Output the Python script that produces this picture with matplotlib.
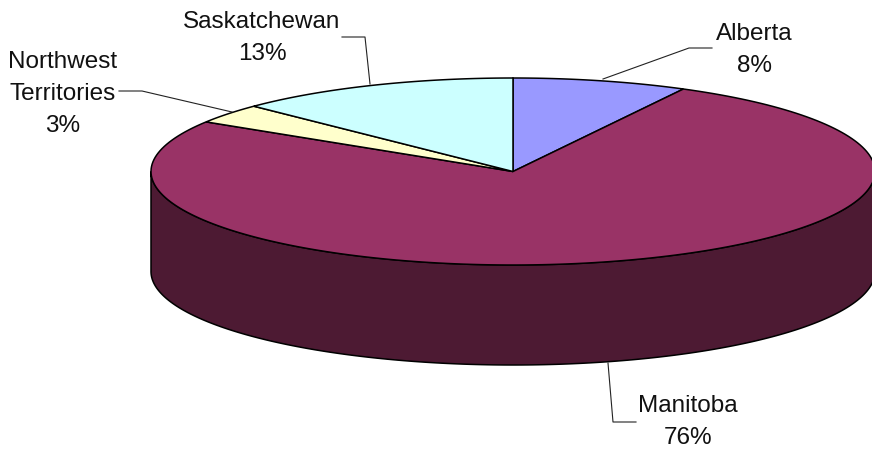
import numpy as np
import matplotlib
matplotlib.use('Agg')
import matplotlib.pyplot as plt
from matplotlib.patches import Polygon

plt.rcParams['font.family'] = ['Liberation Sans', 'DejaVu Sans']

labels = ['Alberta', 'Manitoba', 'Northwest\nTerritories', 'Saskatchewan']
shares = [7.8, 76.1, 3.4, 12.7]
colors = ['#9999FF', '#993366', '#FFFFCC', '#CCFFFF']
wall_color = '#4D1A33'

cx, cy, rx, ry, depth = 513, 172.5, 362, 93.5, 100

fig = plt.figure(figsize=(8.72, 4.52), dpi=100)
ax = fig.add_axes([0, 0, 1, 1])
ax.set_xlim(0, 872)
ax.set_ylim(452, 0)
ax.axis('off')


def rim(a0, a1, n=200):
    # a0, a1 in percent, clockwise from the top
    t = np.radians(90 - 3.6 * np.linspace(a0, a1, n))
    return cx + rx * np.cos(t), cy - ry * np.sin(t)


# side wall
sx, sy = rim(25, 75)
ax.add_patch(Polygon(np.r_[np.c_[sx, sy], np.c_[sx, sy + depth][::-1]], closed=True,
                     fc=wall_color, ec='k', lw=1.1, zorder=2))

# top slices
start = 0
for share, col in zip(shares, colors):
    x, y = rim(start, start + share)
    ax.add_patch(Polygon(np.r_[[[cx, cy]], np.c_[x, y]], closed=True, fc=col, ec='k', lw=1.1, zorder=3))
    start += share

# labels and leader lines
text_pos = [(754, 50), (688, 422), (63, 94), (262, 38)]
leaders = [([712, 689, 603], [49, 49, 80]),
           ([636, 613, 608], [423, 423, 364]),
           ([119, 142, 232], [92, 92, 113]),
           ([342, 365, 370], [38, 38, 85])]
for name, share, (tx, ty), (lx, ly) in zip(labels, shares, text_pos, leaders):
    ax.text(tx, ty, f'{name}\n{round(share)}%', ha='center', va='center',
            fontsize=17.5, linespacing=1.6, color='#111111')
    ax.plot(lx, ly, color='#222222', lw=0.8, zorder=4)

fig.savefig('out.png', dpi=100)
